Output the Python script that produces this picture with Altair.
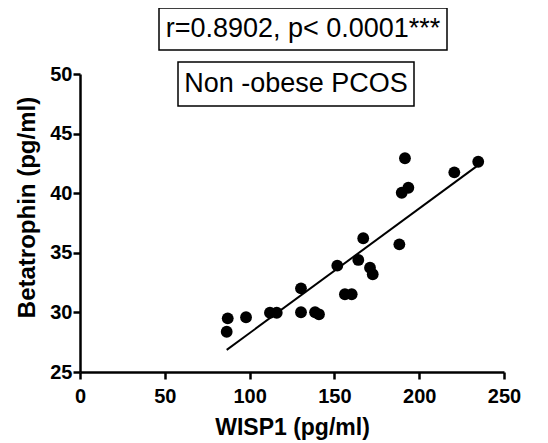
import altair as alt
import pandas as pd

wisp1 = [87.1, 86.5, 97.9, 112.0, 116.0, 130.3, 130.3, 138.6, 140.9, 167.0, 188.3,
         151.7, 164.1, 171.0, 172.6, 156.2, 160.2, 191.6, 189.7, 193.6, 220.7, 234.8]
betatrophin = [29.50, 28.38, 29.59, 29.97, 29.97, 32.02, 30.01, 30.01, 29.84, 36.22, 35.71,
               33.92, 34.40, 33.75, 33.20, 31.52, 31.52, 42.93, 40.04, 40.46, 41.75, 42.64]
x_ticks = [0, 50, 100, 150, 200, 250]
y_ticks = [25, 30, 35, 40, 45, 50]
stat_text = "r=0.8902, p< 0.0001***"
group_text = "Non -obese PCOS"

df = pd.DataFrame({"x": wisp1, "y": betatrophin})
FONT = "Liberation Sans"

common = dict(labelFont=FONT, labelFontSize=20, labelFontWeight="bold", labelColor="black",
              titleFont=FONT, titleFontWeight="bold", titleColor="black", grid=False,
              domainColor="black", domainWidth=2.5, tickColor="black", tickWidth=2.5,
              tickSize=7, labelFlush=False, labelOverlap=False)

xenc = alt.X("x:Q", scale=alt.Scale(domain=[0, 250], nice=False),
             axis=alt.Axis(values=x_ticks, title="WISP1 (pg/ml)", labelPadding=7,
                           titlePadding=10, titleFontSize=23, **common))
yenc = alt.Y("y:Q", scale=alt.Scale(domain=[25, 50], nice=False, zero=False),
             axis=alt.Axis(values=y_ticks, title="Betatrophin (pg/ml)", labelPadding=1,
                           titlePadding=10, titleFontSize=24, titleY=133, **common))

points = alt.Chart(df).mark_circle(size=140, color="black", opacity=1).encode(x=xenc, y=yenc)
fit = alt.Chart(df).transform_regression("x", "y").mark_line(color="black", strokeWidth=2).encode(
    x="x:Q", y="y:Q")

one = alt.Data(values=[{}])
box1 = alt.Chart(one).mark_rect(fill="white", stroke="black", strokeWidth=1.5).encode(
    x=alt.value(79), x2=alt.value(367), y=alt.value(-66), y2=alt.value(-24))
txt1 = alt.Chart(one).mark_text(text=stat_text, font=FONT, fontSize=27, color="black",
                                align="center", baseline="middle").encode(
    x=alt.value(223), y=alt.value(-45))
box2 = alt.Chart(one).mark_rect(fill="white", stroke="black", strokeWidth=1.5).encode(
    x=alt.value(98), x2=alt.value(334), y=alt.value(-12), y2=alt.value(32))
txt2 = alt.Chart(one).mark_text(text=group_text, font=FONT, fontSize=27, color="black",
                                align="center", baseline="middle").encode(
    x=alt.value(216), y=alt.value(10))

chart = alt.layer(points, fit, box1, txt1, box2, txt2).properties(
    width=424, height=298,
    autosize=alt.AutoSizeParams(type="none"),
    padding={"left": 72, "top": 66, "right": 30, "bottom": 70},
).configure_view(stroke=None)

chart.save("out.html", embed_options={"renderer": "svg", "actions": False})
